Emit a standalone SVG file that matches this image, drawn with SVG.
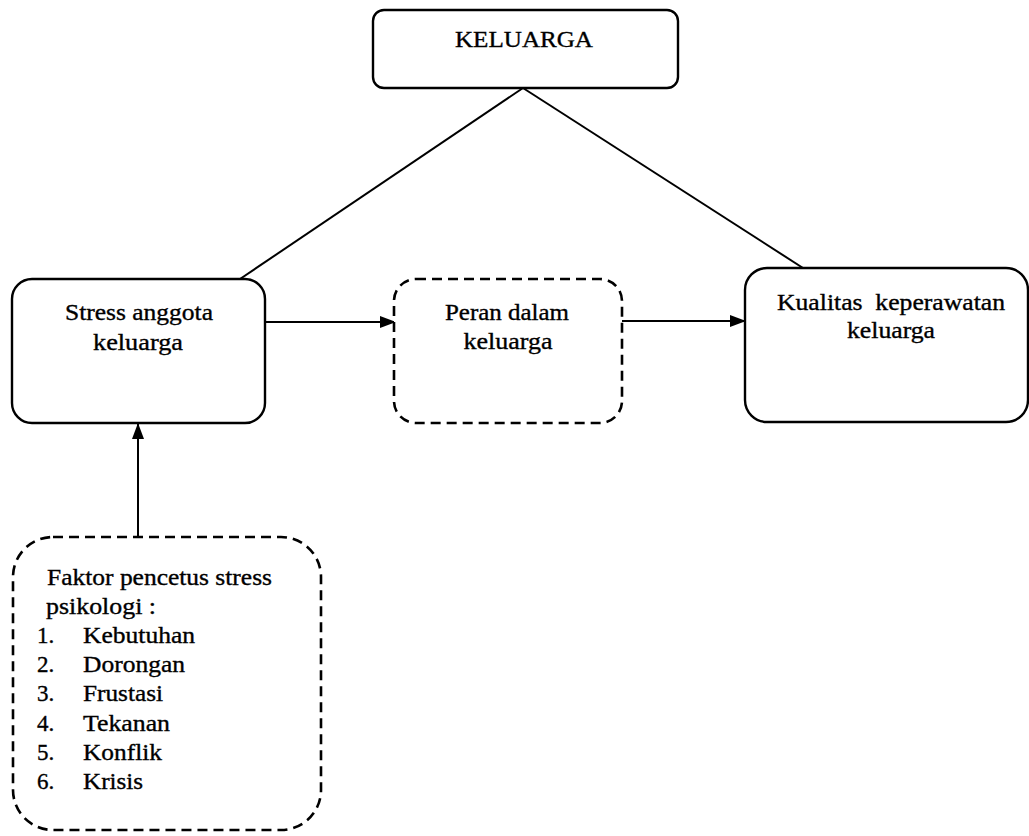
<svg xmlns="http://www.w3.org/2000/svg" width="1029" height="836" viewBox="0 0 1029 836">
<style>
.box{fill:#fff;stroke:#000;stroke-width:2.4}
.dash{fill:#fff;stroke:#000;stroke-width:2.6;stroke-dasharray:10 6}
.t{font-family:"Liberation Serif",serif;font-size:23px;fill:#000;stroke:#000;stroke-width:0.35}
.c{text-anchor:middle}
.ln{stroke:#000;stroke-width:2;fill:none}
</style>
<defs>
<marker id="ah" markerWidth="16" markerHeight="12" refX="15" refY="6" orient="auto" markerUnits="userSpaceOnUse">
<path d="M0,0 L16,6 L0,12 Z" fill="#000"/>
</marker>
</defs>
<g id="connectors">
<line class="ln" x1="523" y1="88" x2="240" y2="279"/>
<line class="ln" x1="523" y1="88" x2="803" y2="268"/>
<line class="ln" x1="265" y1="322" x2="395" y2="322" marker-end="url(#ah)"/>
<line class="ln" x1="622" y1="321" x2="745" y2="321" marker-end="url(#ah)"/>
<line class="ln" x1="138" y1="537" x2="138" y2="424" marker-end="url(#ah)"/>
</g>
<g id="keluarga">
<rect class="box" x="373" y="10" width="305" height="78" rx="11"/>
<text class="t c" x="524" y="47" textLength="138" lengthAdjust="spacingAndGlyphs">KELUARGA</text>
</g>
<g id="stress">
<rect class="box" x="12" y="279" width="253" height="144" rx="20"/>
<text class="t c" x="139" y="320" textLength="148" lengthAdjust="spacingAndGlyphs">Stress anggota</text>
<text class="t c" x="138" y="350" textLength="90" lengthAdjust="spacingAndGlyphs">keluarga</text>
</g>
<g id="peran">
<rect class="dash" x="394" y="279" width="228" height="144" rx="22"/>
<text class="t c" x="507" y="320" textLength="124" lengthAdjust="spacingAndGlyphs">Peran dalam</text>
<text class="t c" x="508" y="349" textLength="89" lengthAdjust="spacingAndGlyphs">keluarga</text>
</g>
<g id="kualitas">
<rect class="box" x="745" y="268" width="283" height="154" rx="22"/>
<text class="t c" x="891" y="310" textLength="228" lengthAdjust="spacingAndGlyphs" xml:space="preserve">Kualitas  keperawatan</text>
<text class="t c" x="891" y="338" textLength="88" lengthAdjust="spacingAndGlyphs">keluarga</text>
</g>
<g id="faktor">
<rect class="dash" x="13" y="537" width="308" height="293" rx="40"/>
<text class="t" x="47" y="585" textLength="225" lengthAdjust="spacingAndGlyphs">Faktor pencetus stress</text>
<text class="t" x="46" y="614" textLength="110" lengthAdjust="spacingAndGlyphs">psikologi :</text>
<text class="t" x="37" y="643">1.</text><text class="t" x="83" y="643" textLength="112" lengthAdjust="spacingAndGlyphs">Kebutuhan</text>
<text class="t" x="37" y="672">2.</text><text class="t" x="83" y="672" textLength="102" lengthAdjust="spacingAndGlyphs">Dorongan</text>
<text class="t" x="37" y="701">3.</text><text class="t" x="83" y="701" textLength="80" lengthAdjust="spacingAndGlyphs">Frustasi</text>
<text class="t" x="37" y="731">4.</text><text class="t" x="83" y="731" textLength="87" lengthAdjust="spacingAndGlyphs">Tekanan</text>
<text class="t" x="37" y="760">5.</text><text class="t" x="83" y="760" textLength="79" lengthAdjust="spacingAndGlyphs">Konflik</text>
<text class="t" x="37" y="789">6.</text><text class="t" x="83" y="789" textLength="60" lengthAdjust="spacingAndGlyphs">Krisis</text>
</g>
</svg>
